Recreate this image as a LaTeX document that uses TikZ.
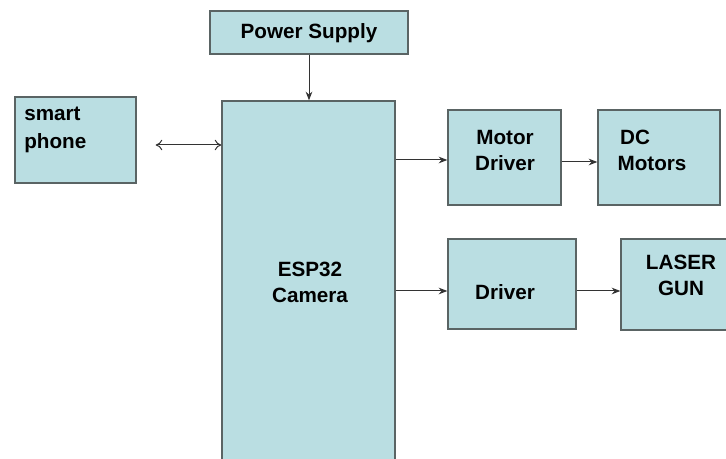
\documentclass[tikz,border=0pt]{standalone}
\usepackage{fontspec}
\setmainfont{Liberation Sans}
\usetikzlibrary{arrows.meta}
\definecolor{boxfill}{RGB}{186,222,226}
\definecolor{boxline}{RGB}{90,100,100}
\begin{document}
\begin{tikzpicture}[x=0.75pt,y=-0.75pt,
  box/.style={draw=boxline,fill=boxfill,line width=1pt,inner sep=0pt},
  txt/.style={inner sep=0pt,align=center,font=\bfseries\fontsize{15.5}{19.5}\selectfont},
  link/.style={draw=black!80,line width=0.75pt,-{Stealth[length=6.5pt,width=5pt]}}]
\useasboundingbox (0,0) rectangle (726,459);

\node[box,minimum width=148.5pt,minimum height=32.25pt] (psu) at (309,32.5) {};
\node[txt] (psutxt) at (309,33) {Power Supply};

\node[box,minimum width=90.75pt,minimum height=64.5pt] (phone) at (75.5,140) {};
\node[txt,anchor=north west,align=left,font=\bfseries\fontsize{15.5}{21}\selectfont] (phonetxt) at (24,107) {smart\\phone};

\node[box,minimum width=129.75pt,minimum height=276.75pt] (esp) at (308.5,285.5) {};
\node[txt] (esptxt) at (310,282) {ESP32\\Camera};

\node[box,minimum width=84.75pt,minimum height=71.25pt] (mdrv) at (504.5,157.5) {};
\node[txt] (mdrvtxt) at (505,150) {Motor\\Driver};
\node[box,minimum width=91.5pt,minimum height=71.25pt] (dcm) at (659,157.5) {};
\node[txt,align=left] (dcmtxt) at (652,150) {\hspace*{2pt}DC\\Motors};

\node[box,minimum width=96pt,minimum height=67.5pt] (drv) at (512,284) {};
\node[txt] (drvtxt) at (505,292) {Driver};
\node[box,minimum width=104.25pt,minimum height=68.25pt] (laser) at (690.5,284.5) {};
\node[txt] (lasertxt) at (681,275) {LASER\\GUN};

% connections
\draw[link] (psu.south) -- (psu.south |- esp.north);
\draw[draw=black!80,line width=0.75pt,{To[length=5pt,width=8pt]}-{To[length=5pt,width=8pt]}] ([xshift=14.25pt,yshift=-3.75pt]phone.east) -- (esp.west |- 0,145);
\draw[link] (esp.east |- 0,160) -- (mdrv.west |- 0,160);
\draw[link] (mdrv.east |- 0,162) -- (dcm.west |- 0,162);
\draw[link] (esp.east |- 0,291) -- (drv.west |- 0,291);
\draw[link] (drv.east |- 0,291) -- (laser.west |- 0,291);
\end{tikzpicture}
\end{document}
